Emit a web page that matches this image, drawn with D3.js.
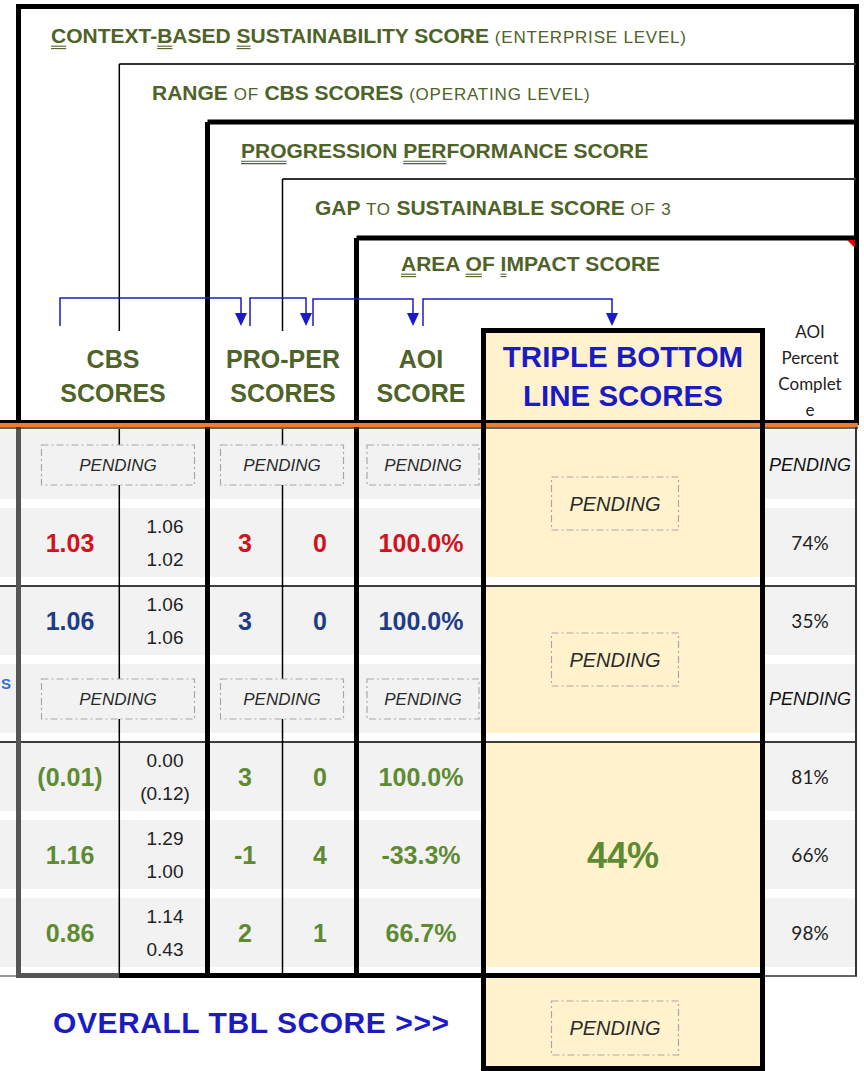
<!DOCTYPE html>
<html>
<head>
<meta charset="utf-8">
<script src="https://cdn.jsdelivr.net/npm/d3@7"></script>
<style>
body { margin: 0; background: #fff; }
svg { display: block; }
text { white-space: pre; }
</style>
</head>
<body>
<svg id="chart" width="864" height="1071"></svg>
<script>
// ---- data ----
var rowGroup     = [0, 0, 1, 1, 2, 2, 2];
var cbsScore     = [null, 1.03, 1.06, null, -0.01, 1.16, 0.86];
var cbsHigh      = [null, 1.06, 1.06, null, 0.00, 1.29, 1.14];
var cbsLow       = [null, 1.02, 1.06, null, -0.12, 1.00, 0.43];
var proPerScore  = [null, 3, 3, null, 3, -1, 2];
var gapScore     = [null, 0, 0, null, 0, 4, 1];
var aoiScore     = [null, 1.0, 1.0, null, 1.0, -0.333, 0.667];
var aoiComplete  = [null, 0.74, 0.35, null, 0.81, 0.66, 0.98];
var tblScore     = [null, null, 0.44];
var overallTbl   = null;

// title lines: [text, kind]  b = bold, s = small caps part, u = bold + underline
var titleLines = [
    [["C","u"],["ONTEXT-","b"],["B","u"],["ASED ","b"],["S","u"],["USTAINABILITY SCORE ","b"],["(ENTERPRISE LEVEL)","s"]],
    [["RANGE ","b"],["OF ","s"],["CBS SCORES ","b"],["(OPERATING LEVEL)","s"]],
    [["PRO","u"],["GRESSION ","b"],["PER","u"],["FORMANCE SCORE","b"]],
    [["GAP ","b"],["TO ","s"],["SUSTAINABLE SCORE ","b"],["OF 3","s"]],
    [["A","u"],["REA ","b"],["O","u"],["F ","b"],["I","u"],["MPACT SCORE","b"]]
];
var colHeaders = [["CBS", "SCORES"], ["PRO-PER", "SCORES"], ["AOI", "SCORE"]];
var tblHeader = ["TRIPLE BOTTOM", "LINE SCORES"];
var pctHeader = ["AOI", "Percent", "Complet", "e"];
var overallLabel = "OVERALL TBL SCORE >>>";
var pendingText = "PENDING";

// ---- styles / layout ----
var FONT = "'Liberation Sans', Arial, sans-serif";
var CAL = "Lato, 'Open Sans', sans-serif";
var OLIVE = "#4f6228", BLUE = "#1b1bc6", CREAM = "#fff2cc", BAND = "#f2f2f2";
var groupColor = ["#d2121c", "#1f3d86", "#5e8b32"];

var svg = d3.select("#chart");

var y = d3.scaleBand().domain(d3.range(rowGroup.length)).range([430, 976]);
var col = d3.scaleOrdinal()
    .domain(["cbs", "range", "pp", "gap", "aoi", "tbl", "pct"])
    .range([70, 165, 245, 320, 421, 623, 810]);

var loc = d3.formatLocale({decimal: ".", thousands: ",", grouping: [3], currency: ["", ""], minus: "-"});
var f2 = loc.format(".2f"), fPct1 = loc.format(".1%"), fPct0 = loc.format(".0%");
function fCbs(v) { return v < 0 ? "(" + f2(-v) + ")" : f2(v); }

var groups = d3.groups(d3.range(rowGroup.length), function (i) { return rowGroup[i]; });
var BAND_H = 69;

function line(x1, y1, x2, y2, w, c) {
    svg.append("line").attr("x1", x1).attr("y1", y1).attr("x2", x2).attr("y2", y2)
        .attr("stroke", c || "#000").attr("stroke-width", w);
}

// ---- row bands ----
svg.append("g").selectAll("rect").data(d3.range(rowGroup.length)).join("rect")
    .attr("x", 0).attr("width", 856).attr("y", function (i) { return y(i); })
    .attr("height", BAND_H).attr("fill", BAND);

// TBL column: white, then merged cream cells
svg.append("rect").attr("x", 485).attr("y", 429).attr("width", 276).attr("height", 548).attr("fill", "#fff");
svg.append("g").selectAll("rect").data(groups).join("rect")
    .attr("x", 485).attr("width", 276)
    .attr("y", function (g) { return y(g[1][0]); })
    .attr("height", function (g) { return y(g[1][g[1].length - 1]) + BAND_H - y(g[1][0]); })
    .attr("fill", CREAM);
// header + overall cells of TBL
svg.append("rect").attr("x", 485).attr("y", 330).attr("width", 276).attr("height", 90).attr("fill", CREAM);
svg.append("rect").attr("x", 485).attr("y", 978).attr("width", 276).attr("height", 90).attr("fill", CREAM);

// ---- grid lines (data area) ----
groups.slice(1).forEach(function (g) { line(0, y(g[1][0]), 856, y(g[1][0]), 1.6); });
line(119.3, 429, 119.3, 976, 1.5);
line(282.5, 429, 282.5, 976, 1.5);
line(856, 425, 856, 976, 2, "#333");
line(762, 976, 857, 976, 1.5, "#333");
line(0, 976, 17, 976, 1, "#333");
line(18.5, 423, 18.5, 978, 5, "#555");
line(16, 975.5, 119, 975.5, 5, "#555");
line(119, 975.5, 765, 975.5, 5);

// ---- header boxes ----
line(16, 6.5, 859, 6.5, 5);
line(18.5, 4, 18.5, 423, 5);
line(856.5, 4, 856.5, 425, 5);
line(119.3, 64, 856, 64, 2, "#333");
line(119.3, 64, 119.3, 331, 1.5);
line(207.5, 122, 856, 122, 5);
line(207.5, 122, 207.5, 978, 5);
line(282.5, 179, 856, 179, 2, "#333");
line(282.5, 179, 282.5, 331, 1.5);
line(356.5, 238, 856, 238, 5);
line(356.5, 238, 356.5, 978, 5);

// header bottom rule: black / orange / dark
line(0, 421.5, 858, 421.5, 3);
line(0, 425, 858, 425, 4, "#ed7d31");
line(0, 428, 858, 428, 1.5, "#333");

// TBL box
line(483.5, 328, 483.5, 1071, 5);
line(762.5, 328, 762.5, 1071, 5);
line(481, 330.5, 765, 330.5, 5);
line(481, 1068.5, 765, 1068.5, 5);

// comment marker
svg.append("polygon").attr("points", "847,240 855,240 855,248").attr("fill", "#e00000");

// ---- title lines ----
var titleX = [51, 152, 241, 315, 401];
var titleY = [43, 100, 158, 215, 271];
titleLines.forEach(function (segs, li) {
    var t = svg.append("text").attr("x", titleX[li]).attr("y", titleY[li])
        .attr("font-family", FONT).attr("fill", OLIVE);
    t.selectAll("tspan").data(segs).join("tspan")
        .attr("font-size", function (d) { return d[1] === "s" ? 17 : 21; })
        .attr("font-weight", function (d) { return d[1] === "s" ? "normal" : "bold"; })
        .attr("letter-spacing", function (d) { return d[1] === "s" ? 0.8 : 0; })
        .text(function (d) { return d[0]; });
    var node = t.node(), off = 0;
    segs.forEach(function (d) {
        if (d[1] === "u") {
            var x0 = node.getStartPositionOfChar(off).x;
            var x1 = node.getEndPositionOfChar(off + d[0].length - 1).x;
            [3.2, 5.6].forEach(function (dy) {
                line(x0, titleY[li] + dy, x1, titleY[li] + dy, 1.1, OLIVE);
            });
        }
        off += d[0].length;
    });
});

// ---- blue brackets ----
var bracketY = [298, 298, 299, 299];
var brackets = [[60, 241], [250, 306], [313, 413], [423, 612]];
var bg = svg.append("g").attr("stroke", BLUE).attr("fill", "none").attr("stroke-width", 1.5);
brackets.forEach(function (b, i) {
    bg.append("path").attr("d", "M" + b[0] + ",326V" + bracketY[i] + "H" + b[1] + "V316");
    svg.append("path").attr("d", "M" + (b[1] - 6) + ",313L" + (b[1] + 6) + ",313L" + b[1] + ",326Z").attr("fill", BLUE);
});

// ---- column headers ----
var headX = [113, 283, 421];
colHeaders.forEach(function (h, i) {
    svg.append("g").selectAll("text").data(h).join("text")
        .attr("x", headX[i]).attr("y", function (d, j) { return 368 + j * 34; })
        .attr("text-anchor", "middle").attr("font-family", FONT).attr("font-weight", "bold")
        .attr("font-size", 25).attr("fill", OLIVE).text(function (d) { return d; });
});
svg.append("g").selectAll("text").data(tblHeader).join("text")
    .attr("x", col("tbl")).attr("y", function (d, j) { return 367 + j * 39; })
    .attr("text-anchor", "middle").attr("font-family", FONT).attr("font-weight", "bold")
    .attr("font-size", 29.5).attr("fill", BLUE).text(function (d) { return d; });
svg.append("g").selectAll("text").data(pctHeader).join("text")
    .attr("x", col("pct")).attr("y", function (d, j) { return 338 + j * 26; })
    .attr("text-anchor", "middle").attr("font-family", CAL)
    .attr("font-size", 17).attr("fill", "#222").text(function (d) { return d; });

// ---- pending boxes ----
function pendingBox(cx, cy, w, h, fill, fs) {
    svg.append("rect").attr("x", cx - w / 2).attr("y", cy - h / 2).attr("width", w).attr("height", h)
        .attr("fill", fill).attr("stroke", "#a8a8a8").attr("stroke-width", 1.2)
        .attr("stroke-dasharray", "7,3,2,3");
    svg.append("text").attr("x", cx).attr("y", cy + fs * 0.36).attr("text-anchor", "middle")
        .attr("font-family", FONT).attr("font-style", "italic").attr("font-size", fs)
        .attr("fill", "#2a2a2a").text(pendingText);
}

// ---- cell values ----
var rows = d3.range(rowGroup.length);
rows.forEach(function (i) {
    var cy = y(i) + 35;
    if (cbsScore[i] === null) {
        pendingBox(118, cy, 153, 40, BAND, 17);
        pendingBox(282, cy, 123, 40, BAND, 17);
        pendingBox(423, cy, 112, 40, BAND, 17);
        svg.append("text").attr("x", col("pct")).attr("y", cy + 6).attr("text-anchor", "middle")
            .attr("font-family", FONT).attr("font-style", "italic").attr("font-size", 18)
            .attr("textLength", 82).attr("lengthAdjust", "spacingAndGlyphs")
            .attr("fill", "#111").text(pendingText);
        return;
    }
    var c = groupColor[rowGroup[i]];
    var big = [[col("cbs"), fCbs(cbsScore[i])], [col("pp"), String(proPerScore[i])],
               [col("gap"), String(gapScore[i])], [col("aoi"), fPct1(aoiScore[i])]];
    big.forEach(function (b) {
        svg.append("text").attr("x", b[0]).attr("y", cy + 9).attr("text-anchor", "middle")
            .attr("font-family", FONT).attr("font-weight", "bold").attr("font-size", 25)
            .attr("fill", c).text(b[1]);
    });
    [[cbsHigh[i], -17], [cbsLow[i], 16]].forEach(function (r) {
        svg.append("text").attr("x", col("range")).attr("y", cy + r[1] + 7).attr("text-anchor", "middle")
            .attr("font-family", FONT).attr("font-size", 19).attr("fill", "#222").text(fCbs(r[0]));
    });
    svg.append("text").attr("x", col("pct")).attr("y", cy + 7).attr("text-anchor", "middle")
        .attr("font-family", CAL).attr("font-size", 19).attr("fill", "#222")
        .text(fPct0(aoiComplete[i]));
});

// TBL merged values
groups.forEach(function (g, gi) {
    var top = y(g[1][0]), bot = y(g[1][g[1].length - 1]) + BAND_H;
    var cy = (top + bot) / 2;
    if (tblScore[gi] === null) {
        pendingBox(615, cy, 127, 53, CREAM, 20);
    } else {
        svg.append("text").attr("x", col("tbl")).attr("y", cy + 13).attr("text-anchor", "middle")
            .attr("font-family", FONT).attr("font-weight", "bold").attr("font-size", 36)
            .attr("fill", groupColor[gi]).text(fPct0(tblScore[gi]));
    }
});

// overall
if (overallTbl === null) pendingBox(615, 1028, 127, 54, CREAM, 20);
svg.append("text").attr("x", 53).attr("y", 1033).attr("font-family", FONT).attr("font-weight", "bold")
    .attr("font-size", 30).attr("textLength", 396).attr("lengthAdjust", "spacing")
    .attr("fill", BLUE).text(overallLabel);

// row label fragment at the left edge
svg.append("text").attr("x", 1).attr("y", 689).attr("font-family", FONT)
    .attr("font-weight", "bold").attr("font-size", 15).attr("fill", "#2e6fd0").text("S");
</script>
</body>
</html>
